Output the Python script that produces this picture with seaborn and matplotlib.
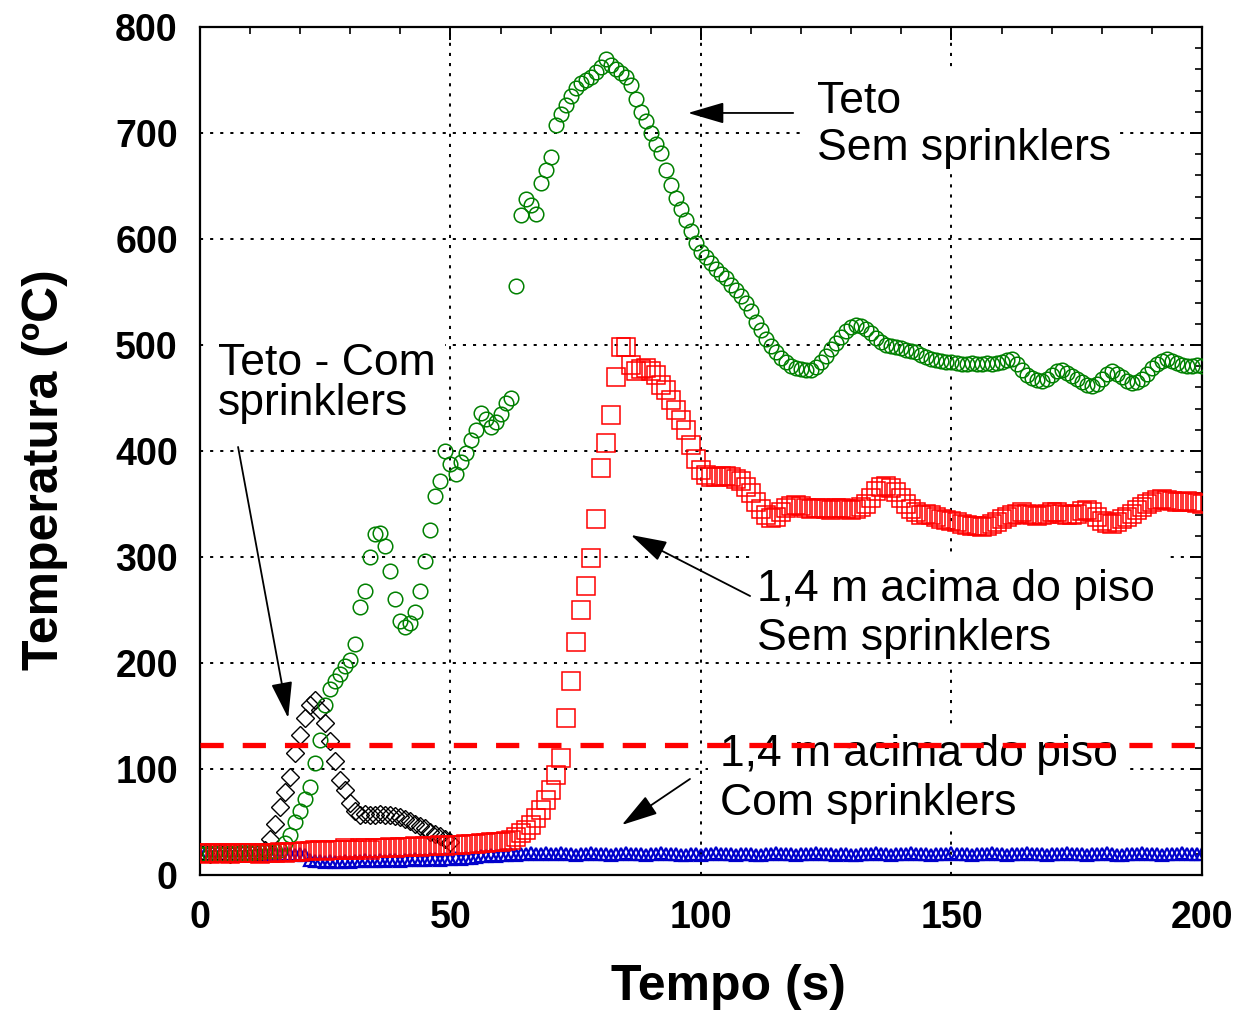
import matplotlib
matplotlib.use("Agg")
import matplotlib.pyplot as plt
from matplotlib.patches import Rectangle
import seaborn as sns
import pandas as pd

# ---------------- data ----------------
tempo = list(range(0, 201))          # s, 1 s sampling
tempo_teto_com = list(range(0, 51))

# Teto - sem sprinklers (green circles)
teto_sem = [
    20, 20, 20, 21, 20, 20, 21, 20, 21, 21, 21, 22, 22, 23, 23, 23,      # 0-15
    24, 30, 38, 50, 60, 72, 83, 106, 127, 160, 175, 183,                   # 16-27
    190, 197, 203, 218, 253, 268, 300, 322, 323, 310, 287, 260, 240,       # 28-40
    234, 238, 248, 268, 296, 325, 358, 372, 400, 388,                      # 41-50
    378, 390, 398, 410, 420, 436, 430, 423, 427, 435,                      # 51-60
    445, 450, 556, 623, 638, 632, 624, 653, 665, 677,                      # 61-70
    708, 718, 726, 735, 742, 747, 750, 753, 758, 762,                      # 71-80
    770, 764, 760, 757, 753, 745, 732, 720, 711, 700,                      # 81-90
    690, 681, 665, 651, 639, 628, 618, 608, 596, 588,                      # 91-100
    583, 577, 572, 567, 563, 557, 552, 546, 540, 532,                      # 101-110
    522, 514, 506, 499, 493, 488, 484, 480, 478, 477,                      # 111-120
    476, 476, 479, 484, 490, 496, 502, 508, 513, 517,                      # 121-130
    519, 518, 515, 511, 507, 503, 500, 499, 498, 497,                      # 131-140
    495, 494, 493, 491, 489, 487, 486, 485, 484, 484,                      # 141-150
    483, 482, 482, 483, 482, 482, 483, 482, 483, 484,                      # 151-160
    486, 487, 482, 476, 472, 469, 467, 466, 468, 472,                      # 161-170
    475, 476, 474, 471, 468, 465, 462, 461, 463, 468,                      # 171-180
    473, 475, 473, 470, 466, 464, 465, 468, 473, 478,                      # 181-190
    482, 485, 487, 485, 483, 481, 480, 480, 481, 480,                      # 191-200
]

# 1,4 m acima do piso - sem sprinklers (red squares)
piso_sem = [
    21, 21, 20, 21, 21, 21, 20, 21, 21, 21, 21, 21, 20, 21, 21, 21,      # 0-15
    22, 21, 22, 22, 22,                                                    # 16-20
    23, 23, 24, 24, 23, 24, 24, 24, 25, 24,                                # 21-30
    24, 25, 25, 24, 25, 25, 25, 26, 25, 26,                                # 31-40
    26, 26, 27, 26, 27, 27, 27, 28, 27, 28,                                # 41-50
    28, 28, 29, 29, 29, 30, 30, 31, 31, 31,                                # 51-60
    32, 33, 36, 40, 42, 47, 54, 61, 71, 80,                                # 61-70
    94, 110, 148, 183, 220, 250, 273, 299, 336, 384,                       # 71-80
    408, 434, 470, 498, 498, 481, 475, 477, 478, 475,                      # 81-90
    472, 462, 458, 448, 439, 429, 420, 406, 392, 382,                      # 91-100
    377, 375, 375, 376, 376, 375, 374, 372, 366, 360,                      # 101-110
    352, 345, 340, 337, 338, 342, 346, 348, 349, 348,                      # 111-120
    346, 345, 346, 346, 345, 344, 346, 346, 345, 344,                      # 121-130
    345, 347, 350, 356, 362, 366, 367, 365, 361, 356,                      # 131-140
    350, 345, 342, 340, 341, 340, 338, 336, 335, 334,                      # 141-150
    333, 331, 330, 329, 329, 328, 329, 331, 333, 336,                      # 151-160
    338, 340, 341, 342, 341, 340, 339, 340, 341, 342,                      # 161-170
    342, 341, 340, 340, 341, 343, 344, 342, 338, 334,                      # 171-180
    332, 331, 333, 336, 338, 341, 344, 347, 350, 352,                      # 181-190
    354, 355, 354, 353, 352, 352, 353, 352, 351, 350,                      # 191-200
]

# Teto - com sprinklers (black diamonds)
teto_com = [
    21, 21, 20, 21, 21, 21, 20, 21, 21, 21, 21, 22, 22,                   # 0-12
    24, 34, 48, 64, 78, 92, 115, 132, 148, 160, 165, 156, 143, 126, 108,   # 13-27
    90, 80, 68, 60, 57, 58, 57, 57, 58, 57, 57, 56, 55,                    # 28-40
    53, 51, 48, 46, 44, 41, 39, 37, 34, 31,                                # 41-50
]

# 1,4 m acima do piso - com sprinklers (blue triangles)
piso_com = [
    20, 20, 19, 20, 20, 19, 20, 20, 20, 19, 20, 20, 19, 20, 20, 20,      # 0-15
    19, 20, 20, 19, 20, 19,                                                # 16-21
    14, 13, 13, 12, 13, 12, 12, 13, 12, 13, 13, 14, 13, 13, 14, 13, 14,   # 22-38
    14, 13, 14, 14, 15, 14, 14, 15, 15, 14, 15, 15, 16, 15, 16, 16, 17,   # 39-55
    18, 18, 19, 18, 19, 19, 20, 19, 20, 20, 21, 20, 20, 21, 20, 20, 21,   # 56-72
    20, 20, 19, 20, 20, 21, 20, 20, 20, 19, 20, 20, 21, 20, 20, 20, 19,   # 73-89
    20, 20, 21, 20, 20, 20, 19, 19, 20, 20, 19, 20, 20, 21, 20, 20, 20,   # 90-106
    19, 20, 20, 20, 19, 19, 20, 20, 21, 20, 20, 20, 19, 20, 20, 20, 21,   # 107-123
    20, 20, 20, 19, 20, 20, 19, 19, 20, 20, 20, 21, 20, 20, 19, 20, 20,   # 124-140
    20, 21, 20, 20, 20, 19, 20, 20, 20, 21, 20, 20, 20, 19, 20, 20, 20,   # 141-157
    21, 20, 20, 19, 20, 20, 20, 21, 20, 20, 20, 19, 20, 20, 20, 21, 20,   # 158-174
    20, 20, 19, 20, 20, 20, 21, 20, 19, 19, 20, 20, 20, 21, 20, 20, 20,   # 175-191
    19, 20, 20, 20, 21, 20, 20, 20, 20,                                    # 192-200
]

limite = 123  # red dashed reference line (oC)

x_ticks = [0, 50, 100, 150, 200]
y_ticks = [0, 100, 200, 300, 400, 500, 600, 700, 800]

# annotation texts
txt_teto_sem = ["Teto", "Sem sprinklers"]
txt_teto_com = ["Teto - Com", "sprinklers"]
txt_piso_sem = ["1,4 m acima do piso", "Sem sprinklers"]
txt_piso_com = ["1,4 m acima do piso", "Com sprinklers"]

# ---------------- styling ----------------
sns.set_style("white")
plt.rcParams["font.family"] = ["Liberation Sans", "DejaVu Sans"]
plt.rcParams["text.color"] = "black"
plt.rcParams["axes.labelcolor"] = "black"
plt.rcParams["xtick.color"] = "black"
plt.rcParams["ytick.color"] = "black"

fig = plt.figure(figsize=(12.38, 10.16), dpi=100)
ax = fig.add_axes([0.16155, 0.13878, 0.80937, 0.83465])

df_piso_com = pd.DataFrame({"t": tempo, "T": piso_com})
df_teto_com = pd.DataFrame({"t": tempo_teto_com, "T": teto_com})
df_teto_sem = pd.DataFrame({"t": tempo, "T": teto_sem})
df_piso_sem = pd.DataFrame({"t": tempo, "T": piso_sem})

common = dict(x="t", y="T", linestyle="", estimator=None, ax=ax, legend=False)
sns.lineplot(data=df_piso_com, marker="^", markersize=9, markerfacecolor="none",
             markeredgecolor="#0000CC", markeredgewidth=1.6, color="#0000CC",
             zorder=2, **common)
sns.lineplot(data=df_teto_com, marker="D", markersize=9, markerfacecolor="none",
             markeredgecolor="black", markeredgewidth=1.0, color="black",
             zorder=3, **common)
sns.lineplot(data=df_teto_sem, marker="o", markersize=10.5, markerfacecolor="none",
             markeredgecolor="#008000", markeredgewidth=1.1, color="#008000",
             zorder=4, **common)
sns.lineplot(data=df_piso_sem, marker="s", markersize=12.5, markerfacecolor="none",
             markeredgecolor="#FF0000", markeredgewidth=1.1, color="#FF0000",
             zorder=5, **common)

ax.axhline(limite, color="#FF0000", lw=3.8, dashes=(4.4, 3.6), zorder=10)

ax.set_xlim(0, 200)
ax.set_ylim(0, 800)
ax.set_xticks(x_ticks)
ax.set_yticks(y_ticks)
ax.set_xticks(range(0, 201, 10), minor=True)
ax.set_yticks(range(0, 801, 20), minor=True)
ax.tick_params(which="both", direction="in", top=True, right=True, colors="black")
ax.tick_params(which="major", length=9, width=1.4)
ax.tick_params(which="minor", length=5, width=1.2)
ax.tick_params(axis="x", which="major", pad=18)
ax.tick_params(axis="y", which="major", pad=16)
for lab in ax.get_xticklabels() + ax.get_yticklabels():
    lab.set_fontsize(27)
    lab.set_fontweight("bold")
    lab.set_color("black")

ax.grid(True, which="major", color="black", lw=1.4, linestyle=(0, (1.6, 3.6)))
ax.set_axisbelow(True)
for sp in ax.spines.values():
    sp.set_color("black")
    sp.set_linewidth(1.6)

ax.set_xlabel("Tempo (s)", fontsize=36, fontweight="bold", color="black")
ax.set_ylabel("Temperatura (ºC)", fontsize=36, fontweight="bold", color="black")
ax.xaxis.set_label_coords(0.527, -0.105)
ax.yaxis.set_label_coords(-0.132, 0.478)

# white backgrounds behind the annotation texts (hide the grid there)
for (x0, x1, y0, y1) in [(120.8, 183.6, 663, 758), (2.0, 49.0, 415, 509),
                         (110.2, 192.6, 201, 305), (101.4, 185.6, 44, 139)]:
    ax.add_patch(Rectangle((x0, y0), x1 - x0, y1 - y0, facecolor="white",
                           edgecolor="none", zorder=1))

tfs = 32
ax.text(123.2, 718.9, txt_teto_sem[0], fontsize=tfs, va="baseline", ha="left", zorder=6)
ax.text(123.2, 674.5, txt_teto_sem[1], fontsize=tfs, va="baseline", ha="left", zorder=6)
ax.text(3.6, 471.7, txt_teto_com[0], fontsize=tfs, va="baseline", ha="left", zorder=6)
ax.text(3.6, 434.0, txt_teto_com[1], fontsize=tfs, va="baseline", ha="left", zorder=6)
ax.text(111.2, 258.5, txt_piso_sem[0], fontsize=tfs, va="baseline", ha="left", zorder=6)
ax.text(111.2, 212.3, txt_piso_sem[1], fontsize=tfs, va="baseline", ha="left", zorder=6)
ax.text(103.8, 102.8, txt_piso_com[0], fontsize=tfs, va="baseline", ha="left", zorder=6)
ax.text(103.8, 56.6, txt_piso_com[1], fontsize=tfs, va="baseline", ha="left", zorder=6)

arrow = dict(arrowstyle="-|>,head_length=0.75,head_width=0.22", mutation_scale=30,
             color="black", lw=1.3, shrinkA=0, shrinkB=0)
ax.annotate("", xy=(97.4, 718.9), xytext=(118.4, 718.9), arrowprops=arrow, zorder=7)
ax.annotate("", xy=(17.6, 148.1), xytext=(7.6, 403.8), arrowprops=arrow, zorder=7)
ax.annotate("", xy=(86.0, 320.8), xytext=(109.8, 263.2), arrowprops=arrow, zorder=7)
ax.annotate("", xy=(84.2, 47.2), xytext=(97.8, 90.6), arrowprops=arrow, zorder=7)

fig.savefig("out.png", dpi=100)
